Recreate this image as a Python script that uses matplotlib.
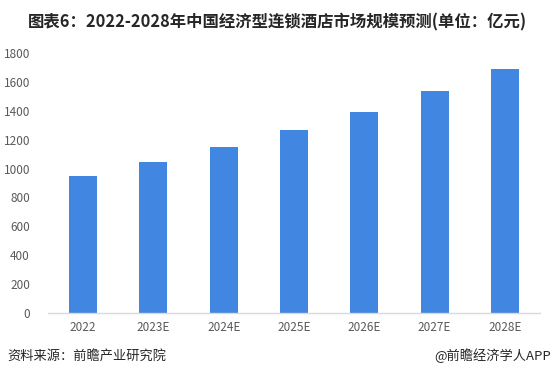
import matplotlib
matplotlib.use("Agg")
import matplotlib.pyplot as plt

plt.rcParams['font.family'] = ['Noto Sans CJK SC', 'DejaVu Sans']

categories = ["2022", "2023E", "2024E", "2025E", "2026E", "2027E", "2028E"]
values = [950, 1046, 1152, 1267, 1394, 1539, 1690]
yticks = [0, 200, 400, 600, 800, 1000, 1200, 1400, 1600, 1800]

title = "图表6：2022-2028年中国经济型连锁酒店市场规模预测(单位：亿元)"
source = "资料来源：前瞻产业研究院"
credit = "@前瞻经济学人APP"

W, H = 552, 379
fig = plt.figure(figsize=(W / 100, H / 100), dpi=100)
ax = fig.add_axes([48 / W, 1 - 313 / H, (540 - 48) / W, (313 - 53) / H])

x = range(len(categories))
ax.bar(x, values, width=0.4, color="#4186E0")
ax.set_xlim(-0.5, len(categories) - 0.5)
ax.set_ylim(0, 1800)
ax.set_yticks(yticks)
ax.set_xticks(list(x))
ax.set_xticklabels(categories)

for s in ["top", "right", "left"]:
    ax.spines[s].set_visible(False)
ax.spines["bottom"].set_color("#D9D9D9")
ax.spines["bottom"].set_linewidth(1.0)
ax.tick_params(axis="both", length=0, labelsize=8.5, labelcolor="#595959")
ax.tick_params(axis="y", pad=13)
ax.tick_params(axis="x", pad=6)

fig.text(277 / W, 1 - 22 / H, title, ha="center", va="center", fontsize=11.8,
         fontweight="bold", color="#262626")
fig.text(7 / W, 1 - 356 / H, source, ha="left", va="center", fontsize=9.5, color="#262626")
fig.text(551 / W, 1 - 356 / H, credit, ha="right", va="center", fontsize=9.5, color="#262626")

fig.savefig("out.png", dpi=100)
